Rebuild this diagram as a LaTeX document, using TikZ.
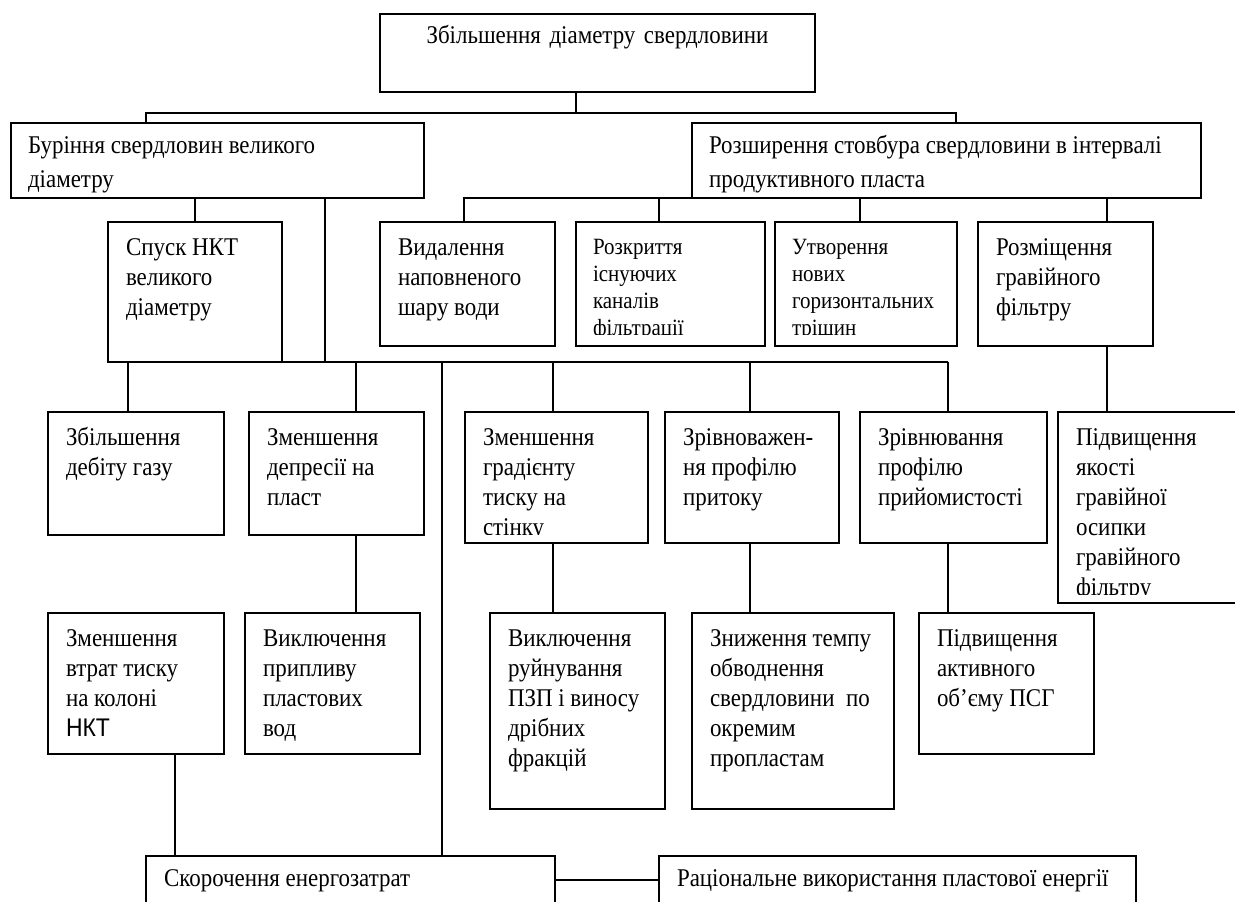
\documentclass[tikz,border=0pt]{standalone}
\usepackage{fontspec}
\setmainfont{Liberation Serif}[FakeStretch=0.9]
\newfontfamily\sansfnt{Liberation Sans}[FakeStretch=0.9]
\newcommand\boxfont{\fontsize{25.5}{30}\selectfont}
\newcommand\boxfontsm{\fontsize{23.3}{27}\selectfont}
\newcommand\boxfontwd{\fontsize{25.5}{34}\selectfont}
\tikzset{
  box/.style={draw,line width=2pt,anchor=north west,inner sep=0pt,outer sep=0pt},
  sz/.style 2 args={minimum width=#1pt,minimum height=#2pt},
  conn/.style={line width=2pt},
  cutpad/.initial=9pt,
  lbl/.style={draw=none,minimum width=0pt,minimum height=0pt,anchor=north west,align=left,
    inner sep=0pt,font=\boxfont,xshift=18pt,yshift=-12pt},
  txt/.style={path picture={
      \clip ([yshift=\pgfkeysvalueof{/tikz/cutpad}]path picture bounding box.south west)
        rectangle (path picture bounding box.north east);
      \node[lbl] at (path picture bounding box.north west) {\strut #1};}},
  small/.style={cutpad=12pt,lbl/.append style={font=\boxfontsm,xshift=-1pt,yshift=-1.5pt}},
  wide/.style={cutpad=2pt,lbl/.append style={font=\boxfontwd,xshift=-1pt,yshift=5pt}},
  centred/.style={lbl/.append style={text width=435pt,align=center,xshift=-18pt,yshift=4pt}},
  flat/.style={lbl/.append style={yshift=2.5pt}},
}

\begin{document}
\begin{tikzpicture}[x=1pt,y=-1pt]
\useasboundingbox (0,0) rectangle (1235,902);
\clip (0,0) rectangle (1235,902);

% top levels
\node[box,sz={435}{78},centred,txt={Збільшення діаметру свердловини}] (top) at (380,14) {};
\node[box,sz={413}{75},wide,txt={Буріння свердловин великого\\діаметру}] (drill) at (11,123) {};
\node[box,sz={509}{75},wide,txt={Розширення стовбура свердловини в інтервалі\\продуктивного пласта}] (widen) at (692,123) {};

% second row
\node[box,sz={174}{140},txt={Спуск НКТ\\великого\\діаметру}] (tubing) at (108,222) {};
\node[box,sz={175}{124},txt={Видалення\\наповненого\\шару води}] (water) at (380,222) {};
\node[box,sz={189}{124},small,txt={Розкриття\\існуючих\\каналів\\фільтрації}] (channels) at (576,222) {};
\node[box,sz={182}{124},small,txt={Утворення\\нових\\горизонтальних\\тріщин}] (cracks) at (775,222) {};
\node[box,sz={175}{124},txt={Розміщення\\гравійного\\фільтру}] (gravel) at (978,222) {};

% third row
\node[box,sz={176}{123},txt={Збільшення\\дебіту газу}] (rate) at (48,412) {};
\node[box,sz={175}{123},txt={Зменшення\\депресії на\\пласт}] (drawdown) at (249,412) {};
\node[box,sz={183}{131},txt={Зменшення\\градієнту\\тиску на\\стінку}] (gradient) at (465,412) {};
\node[box,sz={174}{131},txt={Зрівноважен-\\ня профілю\\притоку}] (inflow) at (665,412) {};
\node[box,sz={187}{131},txt={Зрівнювання\\профілю\\прийомистості}] (injectivity) at (860,412) {};
\node[box,sz={200}{191},txt={Підвищення\\якості\\гравійної\\осипки\\гравійного\\фільтру}] (pack) at (1058,412) {};

% fourth row
\node[box,sz={176}{141},txt={Зменшення\\втрат тиску\\на колоні\\{\sansfnt НКТ}}] (losses) at (48,613) {};
\node[box,sz={175}{141},txt={Виключення\\припливу\\пластових\\вод}] (influx) at (245,613) {};
\node[box,sz={175}{196},txt={Виключення\\руйнування\\ПЗП і виносу\\дрібних\\фракцій}] (sand) at (490,613) {};
\node[box,sz={202}{196},txt={Зниження темпу\\обводнення\\свердловини~ по\\окремим\\пропластам}] (watercut) at (692,613) {};
\node[box,sz={175}{141},txt={Підвищення\\активного\\об’єму ПСГ}] (storage) at (919,613) {};

% bottom row
\node[box,sz={409}{48},flat,txt={Скорочення енергозатрат}] (energy) at (146,856) {};
\node[box,sz={477}{48},flat,txt={Раціональне використання пластової енергії}] (reservoir) at (659,856) {};

% connectors from the top
\coordinate (j0) at (576,113);
\coordinate (j0l) at (146,113);
\coordinate (j0r) at (956,113);
\draw[conn] (j0 |- top.south) -- (j0);
\draw[conn] (j0l |- drill.north) -- (j0l) -- (j0r) -- (j0r |- widen.north);

% under drilling
\coordinate (j1) at (325,362);
\coordinate (j2) at (356,362);
\coordinate (j3) at (442,362);
\coordinate (j4) at (553,362);
\coordinate (j5) at (750,362);
\coordinate (j7) at (948,362);
\draw[conn] (tubing.north |- drill.south) -- (tubing.north);
\draw[conn] (j1 |- drill.south) -- (j1);
\draw[conn] (tubing.south east) -- (j7);
\draw[conn] (j2) -- (j2 |- drawdown.north);
\draw[conn] (j3) -- (j3 |- energy.north);
\draw[conn] (j4) -- (j4 |- gradient.north);
\draw[conn] (j5) -- (j5 |- inflow.north);
\draw[conn] (j7) -- (j7 |- injectivity.north);
\draw[conn] (j2 |- drawdown.south) -- (j2 |- influx.north);
\draw[conn] (j4 |- gradient.south) -- (j4 |- sand.north);
\draw[conn] (j5 |- inflow.south) -- (j5 |- watercut.north);
\draw[conn] (j7 |- injectivity.south) -- (j7 |- storage.north);

% under widening
\coordinate (k1) at (464,210);
\coordinate (k2) at (659,210);
\coordinate (k3) at (860,210);
\coordinate (k4) at (1107,210);
\draw[conn] (widen.south west) -| (k1 |- water.north);
\draw[conn] (k2 |- widen.south) -- (k2 |- channels.north);
\draw[conn] (k3 |- widen.south) -- (k3 |- cracks.north);
\draw[conn] (k4 |- widen.south) -- (k4 |- gravel.north);
\draw[conn] (k4 |- gravel.south) -- (k4 |- pack.north);

% left side and bottom
\coordinate (s1) at (128,390);
\coordinate (s2) at (175,800);
\draw[conn] (s1 |- tubing.south) -- (s1 |- rate.north);
\draw[conn] (s2 |- losses.south) -- (s2 |- energy.north);
\draw[conn] (energy.east) -- (reservoir.west);
\end{tikzpicture}
\end{document}
